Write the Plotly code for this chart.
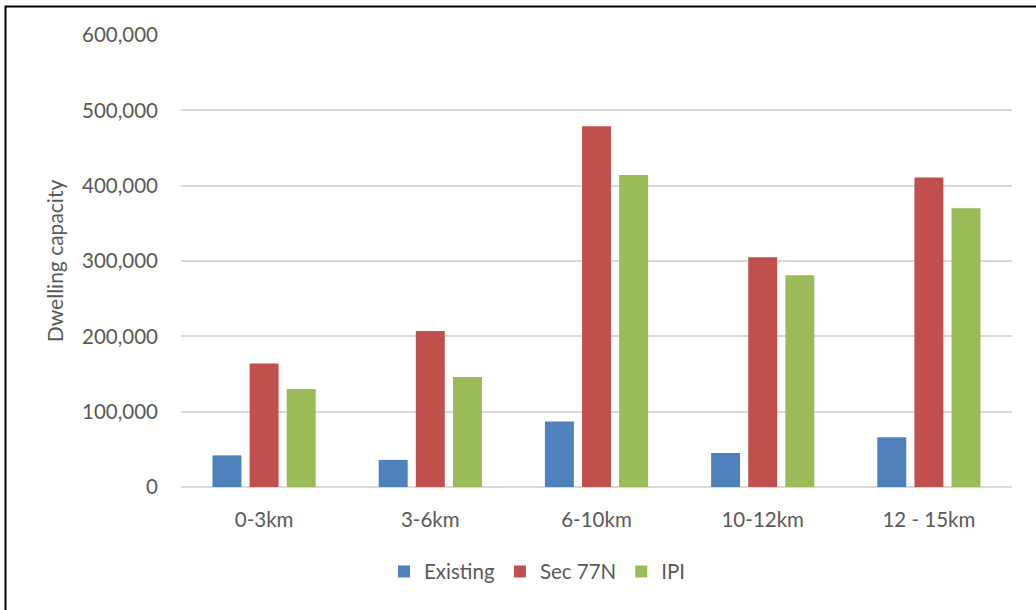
import plotly.graph_objects as go

categories = ["0-3km", "3-6km", "6-10km", "10-12km", "12 - 15km"]
existing = [42000, 36000, 87000, 45000, 66000]
sec77n = [164000, 207000, 479000, 305000, 411000]
ipi = [130000, 146000, 414000, 281000, 370000]

W, H = 1036, 610
ML, MR, MT, MB = 181, 24, 35, 123
FONT = "Lato, 'Open Sans', sans-serif"
GREY = "#595959"
FS = 20.5

fig = go.Figure()
for name, vals, col in [("Existing", existing, "#4f81bd"),
                        ("Sec 77N", sec77n, "#c0504d"),
                        ("IPI", ipi, "#9bbb59")]:
    fig.add_trace(go.Bar(name=name, x=categories, y=vals, marker_color=col,
                         marker_line_width=0))

pw, ph = W - ML - MR, H - MT - MB
# outer chart frame (extends past right/bottom edges of the page)
x0 = (5.5 - ML) / pw
x1 = (W + 10 - ML) / pw
y1 = (H - 6.5 - MB) / ph
y0 = (-20 - MB) / ph
fig.add_shape(type="rect", xref="paper", yref="paper", x0=x0, x1=x1, y0=y0, y1=y1,
              line=dict(color="black", width=2), layer="above")

fig.update_layout(
    width=W, height=H,
    margin=dict(l=ML, r=MR, t=MT, b=MB),
    paper_bgcolor="white", plot_bgcolor="white",
    barmode="group", bargap=0.33, bargroupgap=0.22,
    font=dict(family=FONT, size=FS, color=GREY),
    showlegend=True,
    legend=dict(orientation="h", x=(384 - ML) / pw, xanchor="left", y=-0.143, yanchor="top",
                font=dict(size=FS, color=GREY), traceorder="normal",
                itemwidth=30, tracegroupgap=0),
    xaxis=dict(showgrid=False, showline=False, ticks="", ticklabelstandoff=18,
               tickfont=dict(size=FS, color=GREY)),
    yaxis=dict(range=[0, 600000], tickvals=[0, 100000, 200000, 300000, 400000, 500000, 600000],
               tickformat=",d", showgrid=True, gridcolor="#d9d9d9", gridwidth=1.5,
               zeroline=True, zerolinecolor="#d9d9d9", zerolinewidth=2,
               ticks="", ticklabelstandoff=22,
               title=dict(text="Dwelling capacity", font=dict(size=21, color=GREY), standoff=12),
               tickfont=dict(size=FS, color=GREY)),
)
fig.write_html("out.html")
